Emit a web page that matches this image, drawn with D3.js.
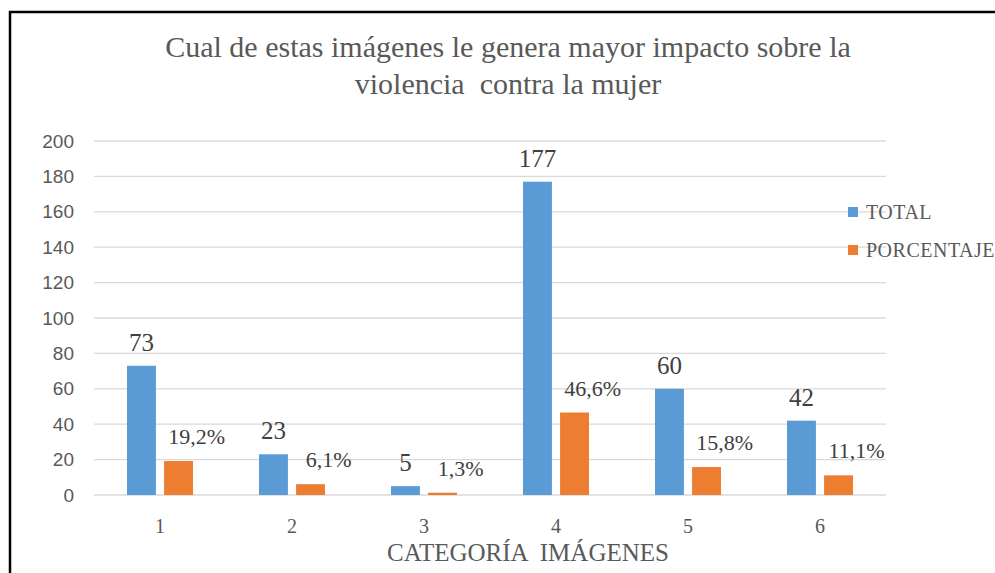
<!DOCTYPE html>
<html>
<head>
<meta charset="utf-8">
<script src="https://cdn.jsdelivr.net/npm/d3@7"></script>
<style>
  body { margin: 0; background: white; }
  svg { display: block; }
</style>
</head>
<body>
<script>
const w = 995;
const h = 573;

// data
const categories = ['1', '2', '3', '4', '5', '6'];
const series = ['TOTAL', 'PORCENTAJE'];
const totals = [73, 23, 5, 177, 60, 42];
const percents = [19.2, 6.1, 1.3, 46.6, 15.8, 11.1];
const yTicks = [0, 20, 40, 60, 80, 100, 120, 140, 160, 180, 200];

const colors = ['#5B9BD5', '#ED7D31'];
const grey = '#595959';
const serif = "'Liberation Serif', 'DejaVu Serif', serif";
const sans = "'Liberation Sans', Arial, sans-serif";

const svg = d3.select('body')
  .append('svg')
  .attr('width', w)
  .attr('height', h)
  .style('background-color', 'white');

// frame
svg.append('rect')
  .attr('x', 10).attr('y', 12)
  .attr('width', 1000).attr('height', 600)
  .attr('fill', 'none')
  .attr('stroke', 'black')
  .attr('stroke-width', 2.5);

const plotL = 94, plotR = 886, plotT = 141, plotB = 495;

const x0 = d3.scaleBand().domain(categories).range([plotL, plotR]);
const bw = x0.bandwidth();
const x1 = d3.scaleBand().domain(series).range([bw * 0.25, bw * 0.75]).paddingInner(0.22);
const y = d3.scaleLinear().domain([0, 200]).range([plotB, plotT]);

// grid lines
svg.append('g')
  .selectAll('line')
  .data(yTicks)
  .enter()
  .append('line')
  .attr('x1', plotL).attr('x2', plotR)
  .attr('y1', d => y(d)).attr('y2', d => y(d))
  .attr('stroke', '#d9d9d9')
  .attr('stroke-width', 1.3);

// y axis labels
const yAxis = svg.append('g')
  .attr('transform', `translate(${plotL}, 0)`)
  .call(d3.axisLeft(y).tickValues(yTicks).tickSize(0).tickPadding(20));
yAxis.select('.domain').remove();
yAxis.selectAll('text')
  .style('font-family', sans).style('font-size', '19px').attr('fill', grey);

// x axis labels
const xAxis = svg.append('g')
  .attr('transform', `translate(0, ${plotB})`)
  .call(d3.axisBottom(x0).tickSize(0).tickPadding(24));
xAxis.select('.domain').remove();
xAxis.selectAll('text')
  .style('font-family', serif).style('font-size', '20px').attr('fill', grey);

const rows = categories.map((c, i) => ({ cat: c, vals: [totals[i], percents[i]] }));

const groups = svg.selectAll('.grp')
  .data(rows)
  .enter()
  .append('g')
  .attr('class', 'grp')
  .attr('transform', d => `translate(${x0(d.cat)}, 0)`);

groups.selectAll('rect')
  .data(d => d.vals.map((v, j) => ({ s: series[j], v: v, j: j })))
  .enter()
  .append('rect')
  .attr('x', d => x1(d.s))
  .attr('width', x1.bandwidth())
  .attr('y', d => y(d.v))
  .attr('height', d => y(0) - y(d.v))
  .attr('fill', d => colors[d.j]);

// value labels
groups.append('text')
  .attr('x', d => x1('TOTAL') + x1.bandwidth() / 2)
  .attr('y', d => y(d.vals[0]) - 15)
  .attr('text-anchor', 'middle')
  .style('font-family', serif).style('font-size', '25px')
  .attr('fill', '#404040')
  .text(d => d.vals[0]);

groups.append('text')
  .attr('x', d => x1('PORCENTAJE') + x1.bandwidth() / 2 + 18)
  .attr('y', d => y(d.vals[1]) - 17)
  .attr('text-anchor', 'middle')
  .style('font-family', serif).style('font-size', '22px')
  .attr('fill', '#404040')
  .text(d => String(d.vals[1]).replace('.', ',') + '%');

// title
const title = svg.append('text')
  .attr('x', 508).attr('y', 57)
  .attr('text-anchor', 'middle')
  .style('font-family', serif).style('font-size', '30px')
  .style('white-space', 'pre')
  .attr('fill', grey);
title.append('tspan').attr('x', 508).text('Cual de estas imágenes le genera mayor impacto sobre la');
title.append('tspan').attr('x', 508).attr('dy', 37).text('violencia  contra la mujer');

// x axis title
svg.append('text')
  .attr('x', 528).attr('y', 561)
  .attr('text-anchor', 'middle')
  .style('font-family', serif).style('font-size', '25px')
  .style('white-space', 'pre')
  .attr('fill', grey)
  .text('CATEGORÍA  IMÁGENES');

// legend
const legend = svg.append('g')
  .selectAll('g')
  .data(series)
  .enter()
  .append('g')
  .attr('transform', (d, i) => `translate(848, ${207 + i * 38})`);

legend.append('rect')
  .attr('width', 10).attr('height', 10)
  .attr('fill', (d, i) => colors[i]);

legend.append('text')
  .attr('x', 18).attr('y', 12)
  .style('font-family', serif).style('font-size', '20px')
  .style('letter-spacing', '0.5px')
  .attr('fill', grey)
  .text(d => d);
</script>
</body>
</html>
